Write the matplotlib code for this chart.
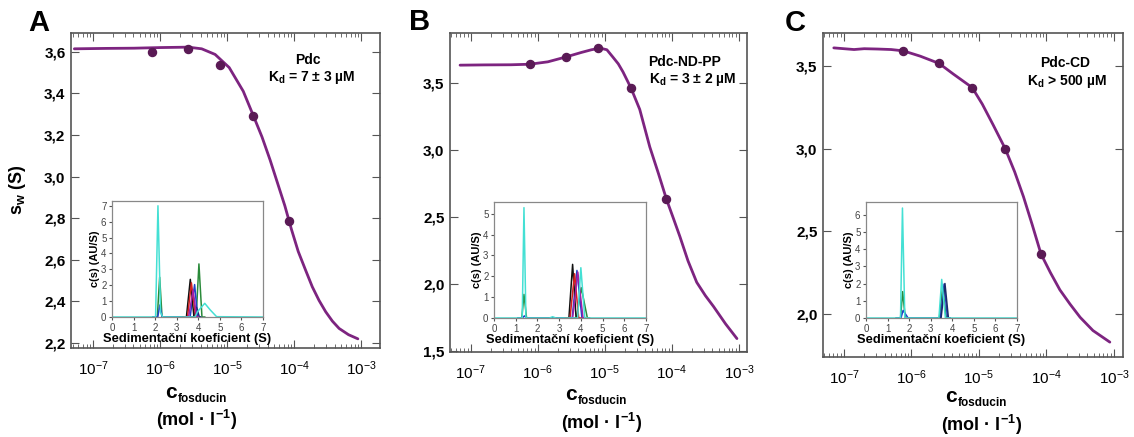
import matplotlib
matplotlib.use("Agg")
import matplotlib.pyplot as plt
import numpy as np
from matplotlib.ticker import LogLocator, NullFormatter

plt.rcParams["font.family"] = ["Liberation Sans", "DejaVu Sans"]
plt.rcParams["mathtext.fontset"] = "custom"
plt.rcParams["mathtext.rm"] = "Liberation Sans"
plt.rcParams["mathtext.bf"] = "Liberation Sans:bold"
plt.rcParams["mathtext.it"] = "Liberation Sans:italic"

W, H = 1134, 437

# ---------- data ----------
# titration concentrations (mol/l), same for all three panels
conc = [7.6e-7, 2.6e-6, 7.9e-6, 2.45e-5, 8.3e-5]

sw_a = [3.60, 3.614, 3.536, 3.293, 2.787]
sw_b = [3.635, 3.69, 3.757, 3.459, 2.628]
sw_c = [3.592, 3.516, 3.37, 3.00, 2.363]

# fitted curves, log10(c) vs s_w
fit_a_logc = [-7.28, -6.8, -6.39, -6.0, -5.58, -5.38, -5.18, -4.97, -4.76, -4.61, -4.48,
              -4.36, -4.25, -4.14, -4.04, -3.94, -3.83, -3.73, -3.63, -3.53, -3.43,
              -3.33, -3.19, -3.05]
fit_a_sw = [3.614, 3.616, 3.617, 3.62, 3.622, 3.614, 3.587, 3.524, 3.41, 3.293, 3.19,
            3.08, 2.97, 2.86, 2.745, 2.64, 2.55, 2.47, 2.405, 2.35, 2.305,
            2.27, 2.24, 2.22]

fit_b_logc = [-7.16, -6.8, -6.4, -6.12, -5.85, -5.59, -5.35, -5.2, -5.07, -4.97, -4.88,
              -4.80, -4.73, -4.61, -4.48, -4.33, -4.20, -4.08, -3.98, -3.88, -3.76,
              -3.63, -3.50, -3.38, -3.20, -3.03]
fit_b_sw = [3.63, 3.632, 3.633, 3.637, 3.655, 3.69, 3.725, 3.745, 3.757, 3.745, 3.69,
            3.64, 3.58, 3.459, 3.30, 3.02, 2.82, 2.628, 2.49, 2.35, 2.17,
            2.01, 1.91, 1.83, 1.70, 1.59]

fit_c_logc = [-7.15, -7.0, -6.85, -6.7, -6.5, -6.3, -6.12, -5.87, -5.59, -5.38, -5.10,
              -4.95, -4.79, -4.61, -4.47, -4.34, -4.21, -4.08, -3.94, -3.80, -3.65,
              -3.50, -3.31, -3.06]
fit_c_sw = [3.61, 3.605, 3.60, 3.605, 3.603, 3.60, 3.592, 3.56, 3.516, 3.452, 3.37,
            3.27, 3.145, 3.00, 2.86, 2.71, 2.54, 2.363, 2.25, 2.146, 2.06,
            1.98, 1.90, 1.83]

# c(s) distributions in the insets: (s, c(s)) points per trace
ins_a = {
    "#2a8a3a": [(1.9, 0), (2.1, 0), (2.21, 2.5), (2.32, 0), (3.9, 0), (4.03, 3.34), (4.17, 0), (4.3, 0)],
    "#2040c8": [(1.9, 0), (2.12, 0), (2.22, 0.76), (2.32, 0), (3.62, 0), (3.83, 2.04), (3.97, 0), (4.1, 0)],
    "#1a2a7a": [(3.7, 0), (3.78, 0), (3.92, 0.6), (4.05, 0), (4.1, 0)],
    "#111111": [(3.3, 0), (3.45, 0), (3.63, 2.37), (3.8, 0), (3.9, 0)],
    "#d42020": [(3.3, 0), (3.5, 0), (3.68, 2.15), (3.88, 0), (3.95, 0)],
    "#a020a8": [(3.4, 0), (3.55, 0), (3.76, 1.7), (3.92, 0), (4.0, 0)],
    "#44e0d4": [(0, 0), (2.02, 0), (2.13, 7.0), (2.25, 0.3), (2.35, 0), (3.85, 0), (3.97, 0.35),
                (4.3, 0.86), (4.55, 0.45), (4.85, 0.02), (7, 0)],
}
ins_b = {
    "#2a8a3a": [(1.1, 0), (1.28, 0), (1.38, 1.13), (1.5, 0), (3.8, 0), (4.02, 1.45), (4.3, 0), (4.4, 0)],
    "#2040c8": [(1.1, 0), (1.3, 0), (1.4, 0.1), (1.5, 0), (3.6, 0), (3.82, 2.28), (4.05, 0), (4.2, 0)],
    "#111111": [(3.3, 0), (3.45, 0), (3.62, 2.57), (3.78, 0), (3.9, 0)],
    "#d42020": [(3.3, 0), (3.5, 0), (3.71, 2.12), (3.9, 0), (4.0, 0)],
    "#a020a8": [(3.5, 0), (3.62, 0), (3.86, 2.2), (4.1, 0), (4.2, 0)],
    "#44e0d4": [(0, 0), (1.3, 0), (1.38, 5.29), (1.47, 0), (2.55, 0), (2.7, 0.06), (2.85, 0),
                (3.85, 0), (4.0, 2.41), (4.18, 0), (7, 0)],
}
ins_c = {
    "#2a8a3a": [(1.4, 0), (1.6, 0), (1.7, 1.53), (1.82, 0), (3.4, 0), (3.55, 1.8), (3.72, 0), (3.85, 0)],
    "#2040c8": [(1.4, 0), (1.62, 0), (1.72, 0.44), (1.82, 0.25), (1.95, 0), (3.45, 0), (3.62, 1.97),
                (3.78, 0), (3.9, 0)],
    "#1a2a6a": [(3.3, 0), (3.48, 0), (3.66, 2.0), (3.82, 0), (3.9, 0)],
    "#44e0d4": [(0, 0), (1.6, 0), (1.69, 6.38), (1.8, 0), (3.38, 0), (3.51, 2.24), (3.68, 0), (7, 0)],
}

yticks_a = [2.2, 2.4, 2.6, 2.8, 3.0, 3.2, 3.4, 3.6]
yticks_b = [1.5, 2.0, 2.5, 3.0, 3.5]
yticks_c = [2.0, 2.5, 3.0, 3.5]

names = ["Pdc", "Pdc-ND-PP", "Pdc-CD"]
kd_text = [r"K$_\mathbf{d}$ = 7 ± 3 µM", r"K$_\mathbf{d}$ = 3 ± 2 µM", r"K$_\mathbf{d}$ > 500 µM"]

LINE = "#7d2480"
DOT = "#5a1a55"
FRAME = "#555555"


def box(l, t, r, b):
    return [l / W, 1 - b / H, (r - l) / W, (b - t) / H]


def fy(y):
    return 1 - y / H


fig = plt.figure(figsize=(W / 100, H / 100), dpi=100)

panels = [
    dict(pos=(71, 33, 380, 348), xlim=(-7.33, -2.72), ylim=(2.176, 3.69), yt=yticks_a, sw=sw_a,
         fx=fit_a_logc, fy=fit_a_sw, ins=ins_a, ipos=(112, 201, 263, 317), iy=(0, 7.3),
         iyt=range(0, 8), letter=(39, 23, "A"), name_xy=(308, 60), kd_xy=(312, 77),
         c_x=177, c_y=398, mol=(197, 420)),
    dict(pos=(450, 33, 747, 352), xlim=(-7.31, -2.88), ylim=(1.49, 3.87), yt=yticks_b, sw=sw_b,
         fx=fit_b_logc, fy=fit_b_sw, ins=ins_b, ipos=(494, 202, 646, 318), iy=(0, 5.56),
         iyt=range(0, 6), letter=(420, 22, "B"), name_xy=(685, 62), kd_xy=(693, 79),
         c_x=577, c_y=400, mol=(602, 423)),
    dict(pos=(823, 33, 1123, 357), xlim=(-7.31, -2.865), ylim=(1.74, 3.70), yt=yticks_c, sw=sw_c,
         fx=fit_c_logc, fy=fit_c_sw, ins=ins_c, ipos=(866, 202, 1017, 318), iy=(0, 6.73),
         iyt=range(0, 7), letter=(795, 23, "C"), name_xy=(1065, 63), kd_xy=(1067, 81),
         c_x=957, c_y=402, mol=(982, 425)),
]

for i, p in enumerate(panels):
    ax = fig.add_axes(box(*p["pos"]))
    ax.set_xscale("log")
    ax.plot(10 ** np.array(p["fx"]), p["fy"], color=LINE, lw=2, solid_capstyle="round",
            solid_joinstyle="round", zorder=2)
    ax.plot(conc, p["sw"], "o", color=DOT, ms=5.8, zorder=3)
    ax.set_xlim(10 ** p["xlim"][0], 10 ** p["xlim"][1])
    ax.set_ylim(*p["ylim"])
    ax.set_yticks(p["yt"])
    ax.set_yticklabels([f"{v:.1f}".replace(".", ",") for v in p["yt"]],
                       fontweight="bold", fontsize=11)
    ax.set_xticks([1e-7, 1e-6, 1e-5, 1e-4, 1e-3])
    ax.xaxis.set_minor_locator(LogLocator(base=10, subs=np.arange(2, 10), numticks=20))
    ax.xaxis.set_minor_formatter(NullFormatter())
    ax.tick_params(axis="x", which="major", direction="in", top=True, length=6,
                   labelsize=11, pad=8, color=FRAME)
    ax.tick_params(axis="x", which="minor", direction="in", top=True, length=3, color=FRAME)
    ax.tick_params(axis="y", direction="in", right=True, length=6, color=FRAME, pad=4)
    for s in ax.spines.values():
        s.set_color(FRAME)
        s.set_linewidth(1.2)

    fig.text(p["name_xy"][0] / W, fy(p["name_xy"][1]), names[i], ha="center", va="center",
             fontsize=10, fontweight="bold")
    fig.text(p["kd_xy"][0] / W, fy(p["kd_xy"][1]), kd_text[i], ha="center", va="center",
             fontsize=10, fontweight="bold")
    lx, ly, lt = p["letter"]
    fig.text(lx / W, fy(ly), lt, ha="center", va="center", fontsize=21, fontweight="bold")

    # inset c(s) distribution
    ia = fig.add_axes(box(*p["ipos"]))
    for col, pts in p["ins"].items():
        s, c = zip(*pts)
        ia.plot(s, c, color=col, lw=1.1)
    ia.set_xlim(0, 7)
    ia.set_ylim(*p["iy"])
    ia.set_xticks(range(0, 8))
    ia.set_yticks(list(p["iyt"]))
    ia.tick_params(labelsize=7, length=2.5, width=0.8, pad=1.5, colors="#555555",
                   labelcolor="#444444")
    for s in ia.spines.values():
        s.set_color("#888888")
        s.set_linewidth(0.9)
    ia.set_ylabel("c(s) (AU/S)", fontsize=8, fontweight="bold", labelpad=1)
    ia.set_xlabel("Sedimentační koeficient (S)", fontsize=9.3, fontweight="bold", labelpad=0)

    # x axis title: c_fosducin / (mol · l-1)
    fig.text(p["c_x"] / W, fy(p["c_y"]), "c", ha="right", va="baseline",
             fontsize=15, fontweight="bold")
    fig.text((p["c_x"] + 1) / W, fy(p["c_y"] + 4), "fosducin", ha="left", va="baseline",
             fontsize=8.5, fontweight="bold")
    fig.text(p["mol"][0] / W, fy(p["mol"][1]), r"(mol · l$^{\mathbf{-1}}$)",
             ha="center", va="center", fontsize=13, fontweight="bold")

fig.text(17 / W, fy(190), r"$\mathbf{s}_{\mathbf{w}}$ (S)", rotation=90, ha="center",
         va="center", fontsize=13, fontweight="bold")

fig.savefig("out.png", dpi=100)
